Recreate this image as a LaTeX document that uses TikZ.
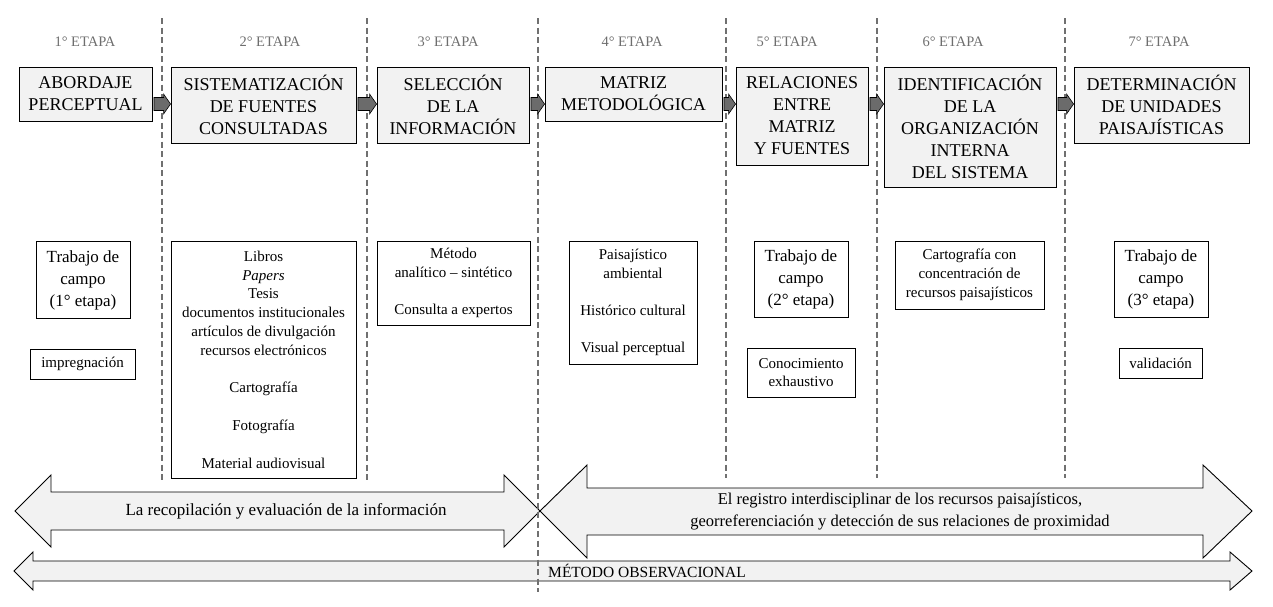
\documentclass[tikz,border=0pt]{standalone}
\usepackage{fontspec}
\setmainfont{Liberation Serif}
\usetikzlibrary{calc}
\definecolor{boxfill}{HTML}{F2F2F2}
\definecolor{arrfill}{HTML}{6B6B6B}
\definecolor{dashgray}{HTML}{707070}
\definecolor{labgray}{HTML}{6E6E6E}
\newcommand\stepconn[2]{\path[smallarrow] let \p1=(#1.east), \p2=(#2.west) in
  (\x1+1.5pt,-97.5pt) -- (\x2-7pt,-97.5pt) -- (\x2-7pt,-94pt) -- (\x2,-104pt)
  -- (\x2-7pt,-114pt) -- (\x2-7pt,-110.5pt) -- (\x1+1.5pt,-110.5pt) -- cycle;}
\begin{document}
\begin{tikzpicture}[x=1pt,y=-1pt,
 topbox/.style={draw=black,line width=0.9pt,fill=boxfill,align=center,inner sep=0pt,font=\fontsize{18}{22}\selectfont},
 wbox/.style={draw=black,line width=0.9pt,fill=white,align=center,inner sep=0pt,font=\fontsize{15}{18.8}\selectfont},
 tbox/.style={wbox,font=\fontsize{17}{22}\selectfont},
 stagelabel/.style={text=labgray,font=\fontsize{14.5}{16}\selectfont,inner sep=0pt},
 divider/.style={draw=dashgray,line width=1.5pt,dash pattern=on 6pt off 3.5pt},
 bigarrow/.style={draw=black,line width=0.9pt,fill=boxfill},
 smallarrow/.style={draw=black,line width=0.6pt,fill=arrfill},
]
\useasboundingbox (0,0) rectangle (1273,606);

% big arrows
\path[bigarrow] (15,511) -- (51,475) -- (51,492) -- (504,492) -- (504,475) -- (540,511)
  -- (504,547) -- (504,530) -- (51,530) -- (51,547) -- cycle;
\path[bigarrow] (540,511) -- (587,465) -- (587,488) -- (1203,488) -- (1203,465) -- (1252,511)
  -- (1203,558) -- (1203,535) -- (587,535) -- (587,558) -- cycle;
\path[bigarrow] (14,571) -- (33,552) -- (33,561) -- (1230,561) -- (1230,552) -- (1252,571)
  -- (1230,590) -- (1230,581) -- (33,581) -- (33,590) -- cycle;

\node[font=\fontsize{17}{20}\selectfont,inner sep=0pt] (lrec) at (286,511) {La recopilación y evaluación de la información};
\node[font=\fontsize{16.5}{22}\selectfont,align=center,inner sep=0pt] (lreg) at (900,512)
  {El registro interdisciplinar de los recursos paisajísticos,\\georreferenciación y detección de sus relaciones de proximidad};
\node[font=\fontsize{15.5}{18}\selectfont,inner sep=0pt] (lmet) at (647,571) {MÉTODO OBSERVACIONAL};

% dividers
\draw[divider] (162,18) -- (162,480);
\draw[divider] (367,18) -- (367,480);
\draw[divider] (538,18) -- (538,592);
\draw[divider] (726,18) -- (726,478);
\draw[divider] (877,18) -- (877,478);
\draw[divider] (1065,18) -- (1065,478);

% stage labels
\node[stagelabel] (s1) at (85,42) {1° ETAPA};
\node[stagelabel] (s2) at (270,42) {2° ETAPA};
\node[stagelabel] (s3) at (448,42) {3° ETAPA};
\node[stagelabel] (s4) at (632,42) {4° ETAPA};
\node[stagelabel] (s5) at (787,42) {5° ETAPA};
\node[stagelabel] (s6) at (953,42) {6° ETAPA};
\node[stagelabel] (s7) at (1159,42) {7° ETAPA};

% top boxes
\node[topbox,minimum width=133pt,minimum height=54pt] (b1) at (85.5,94) {ABORDAJE\\PERCEPTUAL};
\node[topbox,minimum width=185pt,minimum height=76pt] (b2) at (263.5,105) {SISTEMATIZACIÓN\\DE FUENTES\\CONSULTADAS};
\node[topbox,minimum width=152pt,minimum height=76pt] (b3) at (453,105) {SELECCIÓN\\DE LA\\INFORMACIÓN};
\node[topbox,minimum width=177pt,minimum height=54pt] (b4) at (633.5,94) {MATRIZ\\METODOLÓGICA};
\node[topbox,minimum width=132pt,minimum height=98pt] (b5) at (802,116) {RELACIONES\\ENTRE\\MATRIZ\\Y FUENTES};
\node[topbox,minimum width=172pt,minimum height=120pt] (b6) at (970,127) {IDENTIFICACIÓN\\DE LA\\ORGANIZACIÓN\\INTERNA\\DEL SISTEMA};
\node[topbox,minimum width=175pt,minimum height=76pt] (b7) at (1161.5,105) {DETERMINACIÓN\\DE UNIDADES\\PAISAJÍSTICAS};

\stepconn{b1}{b2}
\stepconn{b2}{b3}
\stepconn{b3}{b4}
\stepconn{b4}{b5}
\stepconn{b5}{b6}
\stepconn{b6}{b7}

% second row
\node[tbox,minimum width=94pt,minimum height=77pt] (t1) at (83,280) {Trabajo de\\campo\\(1° etapa)};
\node[wbox,minimum width=105pt,minimum height=30pt] (imp) at (82.5,364) {impregnación};
\node[wbox,minimum width=185pt,minimum height=237pt] (fuentes) at (263.5,359.5)
  {Libros\\\textit{Papers}\\Tesis\\documentos institucionales\\artículos de divulgación\\recursos electrónicos\\[18.8pt]Cartografía\\[18.8pt]Fotografía\\[18.8pt]Material audiovisual};
\node[wbox,minimum width=153pt,minimum height=84pt] (metodo) at (453.5,283) {Método\\analítico – sintético\\[18.5pt]Consulta a expertos};
\node[wbox,minimum width=128pt,minimum height=123pt] (matriz) at (633,302.5) {Paisajístico\\ambiental\\[18.5pt]Histórico cultural\\[18.5pt]Visual perceptual};
\node[tbox,minimum width=94pt,minimum height=76pt] (t5) at (801,279) {Trabajo de\\campo\\(2° etapa)};
\node[wbox,minimum width=108pt,minimum height=49pt] (con) at (801,372.5) {Conocimiento\\exhaustivo};
\node[wbox,minimum width=149pt,minimum height=68pt] (carto) at (969.5,275) {Cartografía con\\concentración de\\recursos paisajísticos};
\node[tbox,minimum width=94pt,minimum height=76pt] (t7) at (1161,279) {Trabajo de\\campo\\(3° etapa)};
\node[wbox,minimum width=83pt,minimum height=30pt] (val) at (1160.5,363) {validación};
\end{tikzpicture}
\end{document}
